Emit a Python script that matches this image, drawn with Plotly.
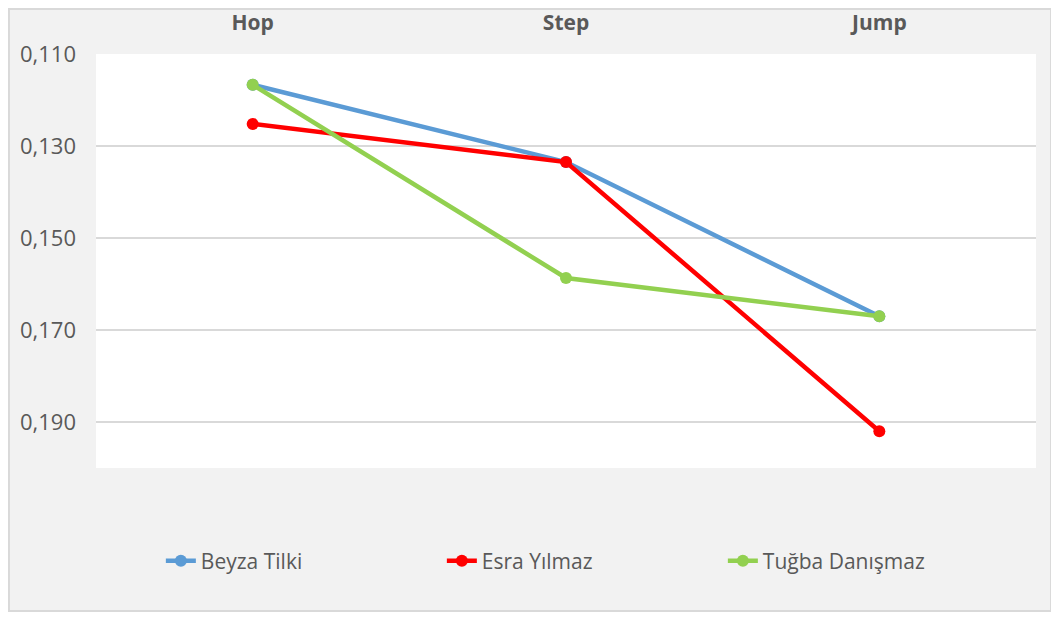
import plotly.graph_objs as go

# Veri
kategoriler = ["Hop", "Step", "Jump"]
beyza = [0.1167, 0.1335, 0.1670]
esra = [0.1252, 0.1335, 0.1920]
tugba = [0.1167, 0.1587, 0.1670]

seriler = [
    ("Beyza Tilki", beyza, "#5B9BD5"),
    ("Esra Yılmaz", esra, "#FF0000"),
    ("Tuğba Danışmaz", tugba, "#92D050"),
]

fig = go.Figure()

for ad, degerler, renk in seriler:
    fig.add_trace(go.Scatter(
        x=kategoriler,
        y=degerler,
        mode="lines+markers",
        name=ad,
        line=dict(color=renk, width=4.5),
        marker=dict(color=renk, size=12),
    ))

# Sayfa gövdesinin 8px kenar boşluğu hesaba katıldı
fig.update_layout(
    width=1044,
    height=604,
    margin=dict(l=88, r=16, t=46, b=144),
    paper_bgcolor="#F2F2F2",
    plot_bgcolor="white",
    separators=",.",
    font=dict(family="Open Sans", size=21, color="#595959"),
    legend=dict(
        orientation="h",
        x=0.069, xanchor="left",
        y=-0.225, yanchor="middle",
        entrywidth=236,
        bgcolor="rgba(0,0,0,0)",
        font=dict(size=21, color="#595959"),
        itemwidth=30,
    ),
    shapes=[dict(
        type="rect", xref="paper", yref="paper",
        x0=-0.0926, x1=1.016, y0=-0.3454, y1=1.1087,
        line=dict(color="#D9D9D9", width=2),
        fillcolor="rgba(0,0,0,0)",
        layer="below",
    )],
)

fig.update_xaxes(
    side="top",
    range=[-0.5, 2.5],
    automargin=False,
    showgrid=False,
    zeroline=False,
    showline=False,
    ticks="",
    ticklabelstandoff=19,
    tickfont=dict(size=21, color="#595959", family="Open Sans", weight="bold"),
)

fig.update_yaxes(
    range=[0.200, 0.110],
    automargin=False,
    tick0=0.110,
    dtick=0.020,
    tickformat=".3f",
    showgrid=True,
    gridcolor="#D9D9D9",
    gridwidth=1.5,
    zeroline=False,
    showline=False,
    ticks="",
    ticklabelstandoff=19,
    tickfont=dict(size=22, color="#595959"),
)

fig.write_html("out.html")
